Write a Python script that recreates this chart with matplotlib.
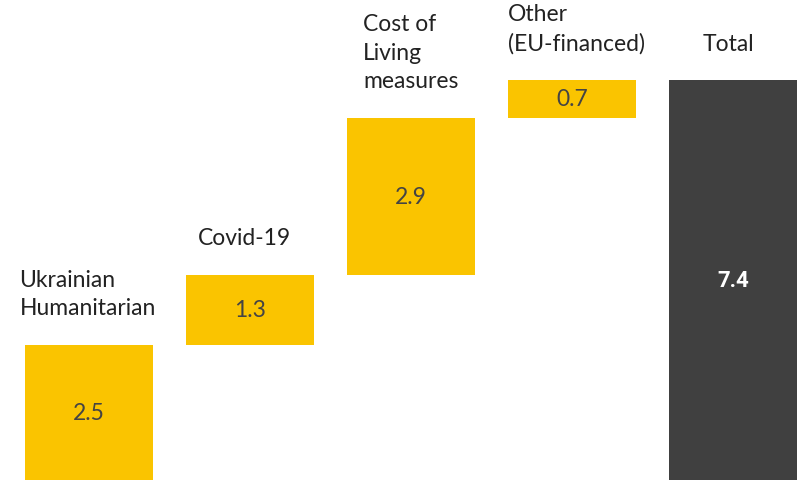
import matplotlib.pyplot as plt
import numpy as np

# Components of the total (EUR bn) and their labels
CATEGORIES = ["Ukrainian\nHumanitarian", "Covid-19", "Cost of\nLiving\nmeasures",
              "Other\n(EU-financed)", "Total"]
VALUES = [2.5, 1.3, 2.9, 0.7]

YELLOW = "#FAC400"
DARK = "#404040"

total = sum(VALUES)
bottoms = np.concatenate([[0], np.cumsum(VALUES)[:-1]])
x = np.arange(len(CATEGORIES))

fig = plt.figure(figsize=(8.03, 4.81), dpi=100)
ax = fig.add_axes([0, 0, 1, 1])
ax.axis("off")

width = 0.795
ax.bar(x[:-1], VALUES, bottom=bottoms, width=width, color=YELLOW)
ax.bar(x[-1], total, width=width, color=DARK)

label_font = dict(family=["Lato", "DejaVu Sans"], fontsize=16.5)

for xi, b, v in zip(x[:-1], bottoms, VALUES):
    ax.text(xi, b + v / 2, f"{v:.1f}", ha="center", va="center",
            color="#444444", **label_font)
ax.text(x[-1], total / 2, f"{total:.1f}", ha="center", va="center",
        color="white", fontsize=16, fontweight="bold", family="Roboto")

# small horizontal nudges (points) for the category labels
nudge = [-1, -4, 0, 3, -3.5]
tops = list(bottoms + np.array(VALUES)) + [total]
for xi, top, name, dx in zip(x, tops, CATEGORIES, nudge):
    ax.annotate(name, (xi, top), xytext=(dx, 19), textcoords="offset points",
                ha="center", va="bottom", multialignment="left",
                color="#222222", linespacing=1.45, **label_font)

ax.set_xlim(-89 / 161, (803 - 89) / 161)
ax.set_ylim(0, total * 481 / 400)

fig.savefig("out.png", dpi=100)
